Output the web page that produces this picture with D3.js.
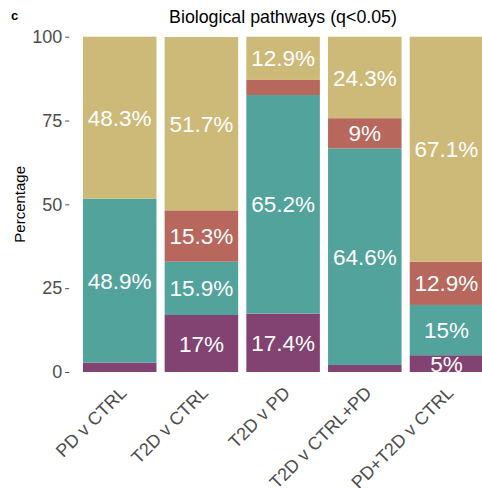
<!DOCTYPE html>
<html>
<head>
<meta charset="utf-8">
<script src="https://cdn.jsdelivr.net/npm/d3@7"></script>
<style>
  html, body { margin: 0; padding: 0; background: #fff; }
  svg { display: block; font-family: "Liberation Sans", Arial, Helvetica, sans-serif; }
</style>
</head>
<body>
<svg id="chart" width="482" height="488"></svg>
<script>
// Comparisons (x axis)
const categories = ["PD v CTRL", "T2D v CTRL", "T2D v PD", "T2D v CTRL+PD", "PD+T2D v CTRL"];

// Share of significant pathways per class, stacked bottom to top (percent)
const seriesNames = ["Class 1", "Class 2", "Class 3", "Class 4"];
const class1 = [2.8, 17, 17.4, 2.1, 5];
const class2 = [48.9, 15.9, 65.2, 64.6, 15];
const class3 = [0, 15.3, 4.5, 9, 12.9];
const class4 = [48.3, 51.7, 12.9, 24.3, 67.1];
const seriesColors = ["#824372", "#52A39C", "#B7675B", "#CDB978"];

const yTicks = [0, 25, 50, 75, 100];

const svg = d3.select("#chart");
const W = 482, H = 488;
const panel = { left: 70.7, right: 495.5, top: 36.7, bottom: 372 };

const rows = categories.map((c, i) => ({
  cat: c,
  [seriesNames[0]]: class1[i],
  [seriesNames[1]]: class2[i],
  [seriesNames[2]]: class3[i],
  [seriesNames[3]]: class4[i]
}));
const stacked = d3.stack().keys(seriesNames)(rows);

const x = d3.scaleBand()
  .domain(categories)
  .range([panel.left, panel.right])
  .paddingInner(0.1)
  .paddingOuter(0.15);

const y = d3.scaleLinear().domain([0, 100]).range([panel.bottom, panel.top]);

svg.append("defs").append("clipPath").attr("id", "panelClip")
  .append("rect")
  .attr("x", panel.left).attr("y", panel.top - 30)
  .attr("width", panel.right - panel.left)
  .attr("height", panel.bottom - panel.top + 30);

const plot = svg.append("g").attr("clip-path", "url(#panelClip)");

// Stacked bars
plot.selectAll("g.layer")
  .data(stacked)
  .join("g")
  .attr("class", "layer")
  .attr("fill", (d, i) => seriesColors[i])
  .selectAll("rect")
  .data(d => d)
  .join("rect")
  .attr("x", d => x(d.data.cat))
  .attr("width", x.bandwidth())
  .attr("y", d => y(d[1]))
  .attr("height", d => Math.max(0, y(d[0]) - y(d[1])));

// Value labels in segments of 5% or more
const labelData = [];
stacked.forEach(layer => {
  layer.forEach(d => {
    const v = d[1] - d[0];
    const value = d.data[layer.key];
    if (value >= 5) labelData.push({ cat: d.data.cat, mid: (d[0] + d[1]) / 2, value });
  });
});

plot.selectAll("text.val")
  .data(labelData)
  .join("text")
  .attr("class", "val")
  .attr("x", d => x(d.cat) + x.bandwidth() / 2)
  .attr("y", d => y(d.mid))
  .attr("dy", "0.36em")
  .attr("text-anchor", "middle")
  .attr("fill", "#ffffff")
  .attr("font-size", 22.5)
  .text(d => d.value + "%");

// Y axis
const yAxis = d3.axisLeft(y).tickValues(yTicks).tickSize(4).tickPadding(3);
const gy = svg.append("g")
  .attr("transform", `translate(${panel.left - 1.5},0)`)
  .call(yAxis);
gy.select(".domain").remove();
gy.selectAll(".tick line").attr("stroke", "#4d4d4d").attr("stroke-width", 1);
gy.selectAll(".tick text")
  .attr("fill", "#4d4d4d")
  .attr("font-size", 18)
  .attr("font-family", "Liberation Sans, Arial, sans-serif");

// X axis labels, rotated
const gx = svg.append("g");
gx.selectAll("text")
  .data(categories)
  .join("text")
  .attr("transform", d => `translate(${x(d) + x.bandwidth() / 2 + 8},394) rotate(-45)`)
  .attr("text-anchor", "end")
  .attr("fill", "#4d4d4d")
  .attr("font-size", 18)
  .text(d => d);

// Y axis title
svg.append("text")
  .attr("transform", `translate(25,${(panel.top + panel.bottom) / 2}) rotate(-90)`)
  .attr("text-anchor", "middle")
  .attr("font-size", 15)
  .attr("fill", "#000")
  .text("Percentage");

// Title
svg.append("text")
  .attr("x", 283)
  .attr("y", 23)
  .attr("text-anchor", "middle")
  .attr("font-size", 17.8)
  .attr("fill", "#000")
  .text("Biological pathways (q<0.05)");

// Panel tag
svg.append("text")
  .attr("x", 11)
  .attr("y", 19.5)
  .attr("font-size", 13)
  .attr("font-weight", "bold")
  .attr("fill", "#000")
  .text("c");
</script>
</body>
</html>
